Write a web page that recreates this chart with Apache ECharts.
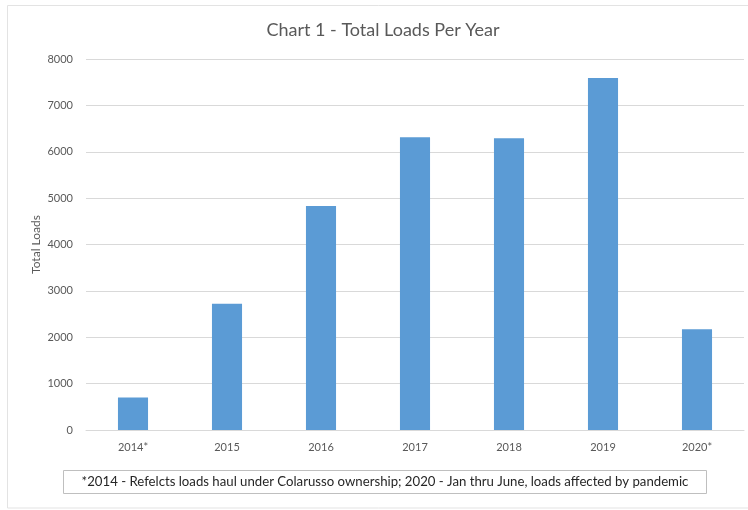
<!DOCTYPE html>
<html>
<head>
<meta charset="utf-8">
<script src="https://cdn.jsdelivr.net/npm/echarts@6/dist/echarts.min.js"></script>
<style>html,body{margin:0;padding:0;background:#fff;}#c{width:748px;height:510px;}</style>
</head>
<body>
<div id="c"></div>
<script>
const categories = ['2014*', '2015', '2016', '2017', '2018', '2019', '2020*'];
const totalLoads = [700, 2720, 4830, 6310, 6290, 7590, 2170];
const yTicks = { min: 0, max: 8000, interval: 1000 };
const titleText = 'Chart 1 - Total Loads Per Year';
const yAxisName = 'Total Loads';
const footnote = '*2014 - Refelcts loads haul under Colarusso ownership; 2020 - Jan thru June, loads affected by pandemic';

const FONT = 'Lato, "Open Sans", sans-serif';
const chart = echarts.init(document.getElementById('c'), null, { renderer: 'canvas' });
chart.setOption({
  animation: false,
  backgroundColor: '#ffffff',
  grid: { left: 86, right: 4, top: 59, bottom: 80 },
  xAxis: {
    type: 'category',
    data: categories,
    axisLine: { show: true, lineStyle: { color: '#d9d9d9', width: 1 } },
    axisTick: { show: false },
    axisLabel: { color: '#595959', fontSize: 11, fontFamily: FONT, margin: 12 }
  },
  yAxis: {
    type: 'value',
    min: yTicks.min, max: yTicks.max, interval: yTicks.interval,
    name: yAxisName,
    nameLocation: 'middle',
    nameGap: 44,
    nameRotate: 90,
    nameMoveOverlap: false,
    nameTextStyle: { color: '#595959', fontSize: 12, fontFamily: FONT },
    axisLine: { show: false },
    axisTick: { show: false },
    splitLine: { lineStyle: { color: '#d9d9d9', width: 1 } },
    axisLabel: { color: '#595959', fontSize: 11, fontFamily: FONT, margin: 13, formatter: function (v) { return String(v); } }
  },
  series: [{
    type: 'bar',
    data: totalLoads,
    barWidth: '32%',
    itemStyle: { color: '#5b9bd5' }
  }],
  graphic: [
    { type: 'rect', shape: { x: 7.5, y: 5.5, width: 800, height: 502.5 }, style: { fill: 'none', stroke: '#e3e3e3', lineWidth: 1 }, silent: true },
    { type: 'text', x: 383, y: 30, style: { text: titleText, fill: '#595959', font: '18px ' + FONT, textAlign: 'center', textVerticalAlign: 'middle' } },
    { type: 'rect', shape: { x: 63.5, y: 470.5, width: 643, height: 23 }, style: { fill: '#ffffff', stroke: '#bfbfbf', lineWidth: 1 } },
    { type: 'text', x: 385, y: 482, style: { text: footnote, fill: '#262626', font: '13.2px ' + FONT, textAlign: 'center', textVerticalAlign: 'middle' } }
  ]
});
</script>
</body>
</html>
